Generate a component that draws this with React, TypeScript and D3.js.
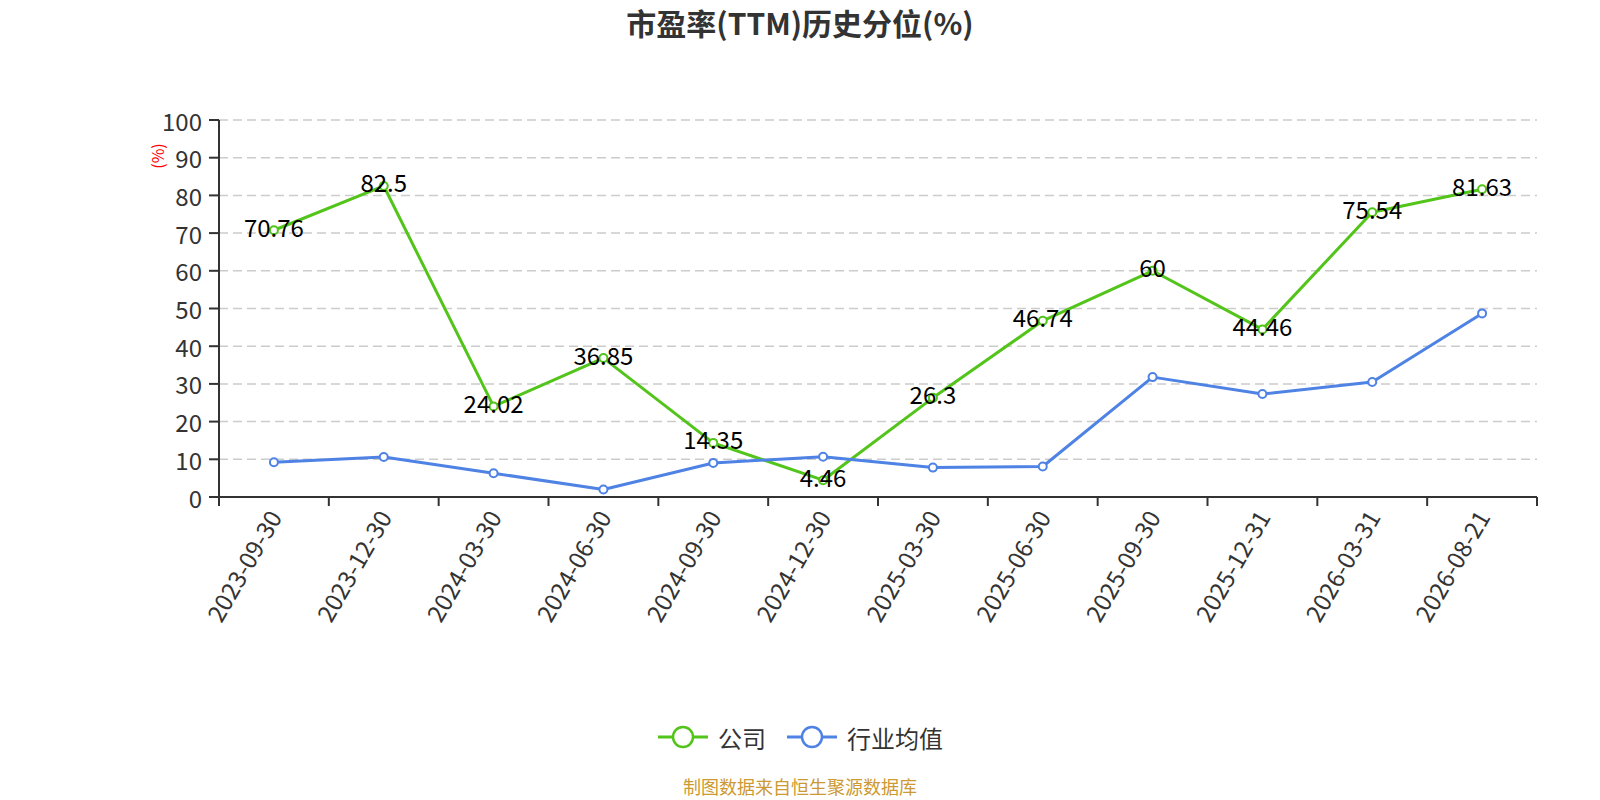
import * as d3 from 'd3';

const dates = [
  '2023-09-30', '2023-12-30', '2024-03-30', '2024-06-30', '2024-09-30', '2024-12-30',
  '2025-03-30', '2025-06-30', '2025-09-30', '2025-12-31', '2026-03-31', '2026-08-21',
];
const company = [70.76, 82.5, 24.02, 36.85, 14.35, 4.46, 26.3, 46.74, 60, 44.46, 75.54, 81.63];
const industry = [9.2, 10.6, 6.3, 2.0, 9.0, 10.7, 7.8, 8.1, 31.8, 27.3, 30.5, 48.7];
const yTicks = [0, 10, 20, 30, 40, 50, 60, 70, 80, 90, 100];

const GREEN = '#52c41a';
const BLUE = '#4e82e4';
const FONT = '"Noto Sans CJK SC", "Noto Sans", sans-serif';

export default function App() {
  const width = 1600;
  const height = 800;
  const left = 219, right = 1537, top = 120, bottom = 497;

  const x = d3.scaleBand<string>().domain(dates).range([left, right]);
  const y = d3.scaleLinear().domain([0, 100]).range([bottom, top]);
  const cx = (d: string) => (x(d) ?? 0) + x.bandwidth() / 2;

  const line = d3.line<number>()
    .x((_, i) => cx(dates[i]))
    .y((v) => y(v));

  const boundaries = [...dates.map((d) => x(d) ?? 0), right];

  const series = [
    { name: '公司', values: company, color: GREEN },
    { name: '行业均值', values: industry, color: BLUE },
  ];

  return (
    <svg
      width={width}
      height={height}
      style={{ position: 'absolute', left: 0, top: 0, background: '#fff' }}
      fontFamily={FONT}
    >
      {/* title */}
      <text x={800} y={35} textAnchor="middle" fontSize={30} fontWeight="bold" fill="#333">
        市盈率(TTM)历史分位(%)
      </text>

      {/* grid */}
      {yTicks.filter((t) => t > 0).map((t) => (
        <line key={t} x1={left} x2={right} y1={y(t)} y2={y(t)}
          stroke="#ccc" strokeWidth={1.5} strokeDasharray="9,5" />
      ))}

      {/* y axis */}
      <line x1={left} x2={left} y1={top} y2={bottom} stroke="#333" strokeWidth={2} />
      {yTicks.map((t) => (
        <g key={t}>
          <line x1={left - 10} x2={left} y1={y(t)} y2={y(t)} stroke="#333" strokeWidth={2} />
          <text x={202} y={y(t)} textAnchor="end" dominantBaseline="central" fontSize={24} fill="#333">
            {t}
          </text>
        </g>
      ))}
      <text transform="translate(157,156) rotate(-90)" textAnchor="middle" dominantBaseline="central"
        fontSize={16} fill="red">(%)</text>

      {/* x axis */}
      <line x1={left} x2={right} y1={bottom} y2={bottom} stroke="#333" strokeWidth={2} />
      {boundaries.map((b, i) => (
        <line key={i} x1={b} x2={b} y1={bottom} y2={bottom + 9} stroke="#333" strokeWidth={2} />
      ))}
      {dates.map((d) => (
        <text key={d} transform={`translate(${cx(d)},${bottom + 15}) rotate(-60)`}
          textAnchor="end" dominantBaseline="central" fontSize={24} fill="#333">
          {d}
        </text>
      ))}

      {/* lines */}
      {series.map((s) => (
        <g key={s.name}>
          <path d={line(s.values) ?? ''} fill="none" stroke={s.color} strokeWidth={3} strokeLinejoin="round" />
          {s.values.map((v, i) => (
            <circle key={i} cx={cx(dates[i])} cy={y(v)} r={4} fill="#fff" stroke={s.color} strokeWidth={2} />
          ))}
        </g>
      ))}

      {/* company labels */}
      {company.map((v, i) => (
        <text key={i} x={cx(dates[i])} y={y(v) - 4} textAnchor="middle" dominantBaseline="central"
          fontSize={24} fill="#000">
          {v}
        </text>
      ))}

      {/* legend */}
      {series.map((s, i) => {
        const lx = i === 0 ? 658 : 787;
        return (
          <g key={s.name}>
            <line x1={lx} x2={lx + 50} y1={737} y2={737} stroke={s.color} strokeWidth={3} />
            <circle cx={lx + 25} cy={737} r={10} fill="#fff" stroke={s.color} strokeWidth={2.5} />
            <text x={lx + 60} y={737} dominantBaseline="central" fontSize={24} fill="#333">{s.name}</text>
          </g>
        );
      })}

      {/* source */}
      <text x={800} y={786} textAnchor="middle" dominantBaseline="central" fontSize={18} fill="#cc9933">
        制图数据来自恒生聚源数据库
      </text>
    </svg>
  );
}
